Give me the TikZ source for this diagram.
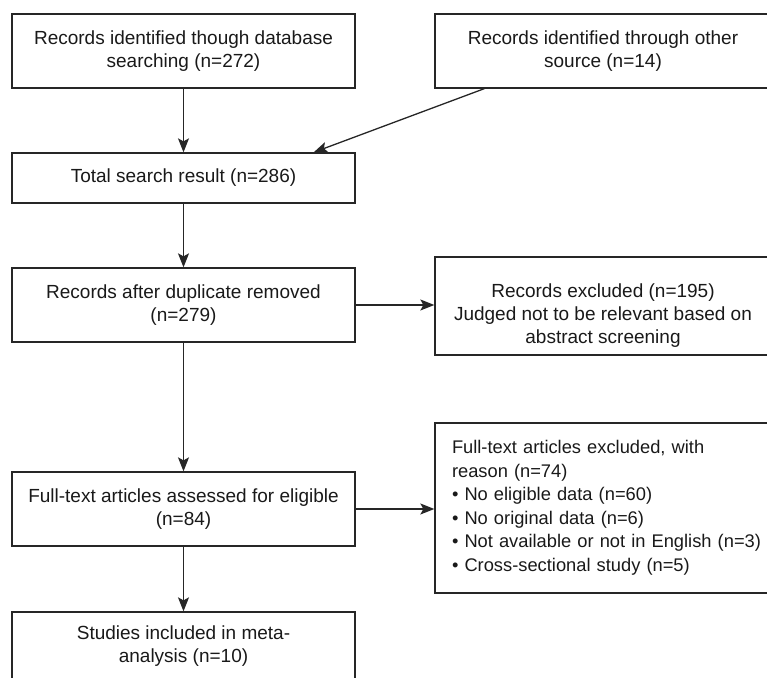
\documentclass[tikz,border=0pt]{standalone}
\usepackage{fontspec}
\setmainfont{Liberation Sans}
\usetikzlibrary{arrows.meta}

\tikzset{
  box/.style={draw=black!85, line width=0.65pt, minimum width=171.5pt, minimum height=37pt,
    align=center, inner sep=0pt, font=\fontsize{9.5}{11.5}\selectfont},
  sidebox/.style={box, minimum width=168pt},
  txt/.style={align=center, inner sep=0pt, font=\fontsize{9.5}{11.5}\selectfont},
  arr/.style={draw=black!85, line width=0.65pt, -{Stealth[length=7pt,width=5.5pt,inset=1.5pt]}}
}

\begin{document}
\begin{tikzpicture}[x=0.5pt,y=-0.5pt, text=black!90]
  \path[use as bounding box] (0,0) rectangle (767,678);
  \clip (0,0) rectangle (767,678);

  % identification
  \node[box] (db) at (183.5,51) {Records identified though database\\searching (n=272)};
  \node[sidebox] (other) at (603,51) {Records identified through other\\source (n=14)};
  \node[box, minimum height=25pt] (total) at (183.5,178) {Total search result (n=286)};

  % screening
  \node[box] (dedup) at (183.5,305) {Records after duplicate removed\\(n=279)};
  \node[sidebox, minimum height=49pt] (excl) at (603,306) {};
  \node[txt] (excltxt) at (603,316) {Records excluded (n=195)\\Judged not to be relevant based on\\abstract screening};

  % eligibility
  \node[box, minimum height=37pt] (fulltext) at (183.5,509) {Full-text articles assessed for eligible\\(n=84)};
  \node[box, minimum height=85pt, text width=175pt, inner xsep=8.5pt, align=left,
    font=\fontsize{9.15}{11.75}\selectfont] (reason) at (627,508)
    {Full-text articles excluded, with\\reason (n=74)\\• No eligible data (n=60)\\• No original data (n=6)\\• Not available or not in English (n=3)\\• Cross-sectional study (n=5)};

  % included
  \node[box, minimum height=34pt] (incl) at (183.5,646) {Studies included in meta-\\analysis (n=10)};

  \draw[arr] (db) -- (total);
  \draw[arr] ([xshift=25pt]other.south west) -- ([xshift=-21pt]total.north east);
  \draw[arr] (total) -- (dedup);
  \draw[arr] (dedup.east) -- (dedup.east -| excl.west);
  \draw[arr] (dedup) -- (fulltext);
  \draw[arr] (fulltext.east) -- (fulltext.east -| reason.west);
  \draw[arr] (fulltext) -- (incl);
\end{tikzpicture}
\end{document}
